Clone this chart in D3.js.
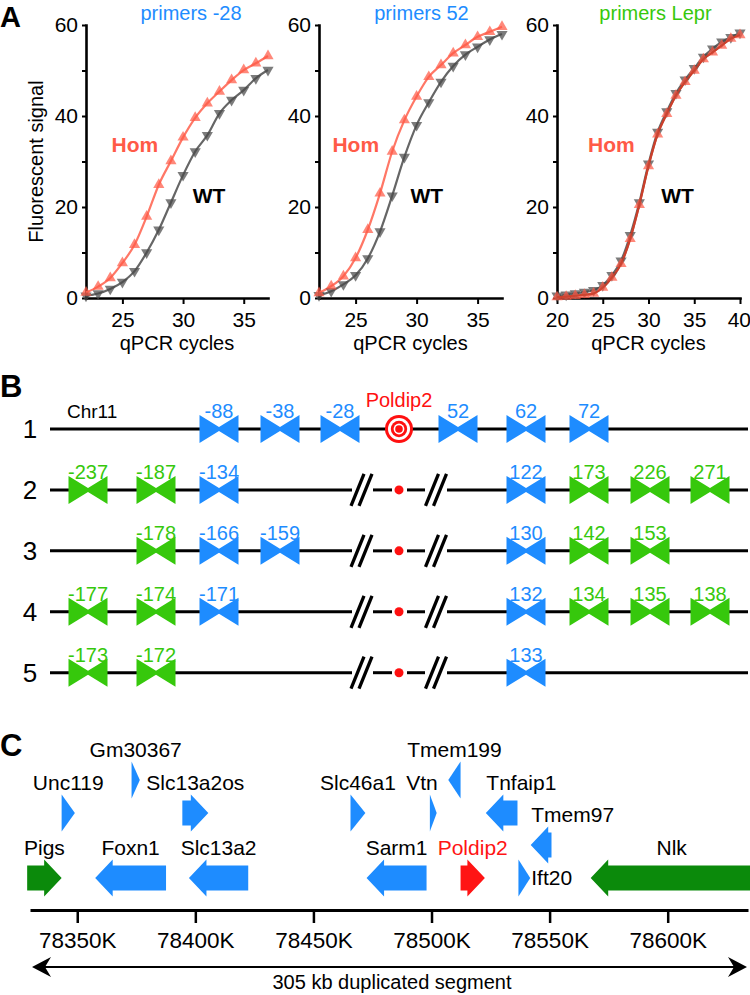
<!DOCTYPE html>
<html><head><meta charset="utf-8">
<script src="https://cdn.jsdelivr.net/npm/d3@7"></script>
<style>
body{margin:0;background:#fff}
svg{display:block;background:#fff}
text{font-family:"Liberation Sans",Arial,Helvetica,sans-serif}
</style>
</head><body>
<svg id="fig" width="750" height="995"></svg>
<script>
// ---------------- DATA ----------------
// Panel A: qPCR amplification curves
const cyclesShort = [22,23,24,25,26,27,28,29,30,31,32,33,34,35,36,37];
const homM28 = [1.2,2.5,4.4,7.7,11.7,17.9,24.9,30.1,35.3,39.6,42.8,45.4,47.9,50.1,51.6,53.2];
const wtM28  = [0.5,1.0,2.0,3.5,5.9,10.0,15.0,21.0,27.0,32.2,35.8,40.6,43.5,45.7,48.3,50.1];
const hom52  = [1.1,2.6,4.8,8.8,15.0,23.0,32.2,39.1,44.3,48.6,51.2,53.8,55.6,57.4,58.5,59.6];
const wt52   = [0.6,1.5,3.0,5.0,8.7,14.6,22.5,31.0,38.0,43.0,47.5,51.0,53.5,55.2,56.8,58.0];
const cyclesLong = [20,21,22,23,24,25,26,27,28,29,30,31,32,33,34,35,36,37,38,39,40];
const homLepr = [0.2,0.3,0.5,0.7,1.0,2.3,4.5,7.5,13.0,20.5,29.0,36.0,40.5,44.5,47.5,50.0,52.5,54.0,55.5,57.0,57.8];
const wtLepr  = [0.5,0.7,1.0,1.3,1.7,2.8,5.0,8.2,13.8,21.0,29.5,36.5,41.0,45.0,48.0,50.5,53.0,54.8,56.3,57.3,58.3];
const titlesA = ["primers -28","primers 52","primers Lepr"];
const yTicksA = [0,10,20,30,40,50,60];
const xTicksShort = [25,30,35];
const xTicksLong = [20,25,30,35,40];

// Panel B: primer maps (label, slot index, type g=green b=blue)
const bRows = [1,2,3,4,5];
const bLabels = [
  ["-88","-38","-28","52","62","72"],
  ["-237","-187","-134","122","173","226","271"],
  ["-178","-166","-159","130","142","153"],
  ["-177","-174","-171","132","134","135","138"],
  ["-173","-172","133"]
];
const bSlots = [
  [2,3,4,6,7,8],
  [0,1,2,7,8,9,10],
  [1,2,3,7,8,9],
  [0,1,2,7,8,9,10],
  [0,1,7]
];
const bTypes = [
  ["b","b","b","b","b","b"],
  ["g","g","b","b","g","g","g"],
  ["g","b","b","b","g","g"],
  ["g","g","b","b","g","g","g"],
  ["g","g","b"]
];

// Panel C: genes (kb)
const geneNames  = ["Pigs","Unc119","Gm30367","Foxn1","Slc13a2os","Slc13a2","Slc46a1","Sarm1","Vtn","Tmem199","Poldip2","Tnfaip1","Ift20","Tmem97","Nlk"];
const geneStart  = [78328.8,78343.4,78373.0,78357.6,78394.5,78397.3,78465.7,78472.5,78499.3,78507.1,78512.3,78523.0,78536.8,78542.0,78567.4];
const geneEnd    = [78343.4,78349.0,78376.5,78387.6,78405.5,78422.4,78472.0,78497.9,78502.2,78512.3,78522.6,78536.4,78541.8,78550.8,78636.0];
const geneStrand = ["+","+","+","-","+","-","+","-","+","-","+","-","+","-","-"];
const geneLane   = ["bottom","mid","top","bottom","mid","bottom","mid","bottom","mid","top","bottom","mid","bottom","low","bottom"];
const geneType   = ["green","blue","blue","blue","blue","blue","blue","blue","blue","blue","red","blue","blue","blue","green"];
const cTicks = [78350,78400,78450,78500,78550,78600];
const segmentText = "305 kb duplicated segment";

// ---------------- STYLE / LAYOUT ----------------
const BLUE = "#1e8cff", GREEN = "#36c80c", RED = "#ff1010";
const C_BLUE = "#1e8cff", C_GREEN = "#0b8a0b", C_RED = "#ff1414";
const HOM_LINE = "#ff7766", HOM_MARK = "#ff5a47", WT_LINE = "#666666", WT_MARK = "#4a4a4a";

const svg = d3.select("#fig");
svg.append("rect").attr("width",750).attr("height",995).attr("fill","#fff");

// panel letters
[["A",27],["B",397],["C",756]].forEach(([t,y])=>{
  svg.append("text").attr("x",0).attr("y",y).attr("font-size",t==="A"?29:31).attr("font-weight","bold").text(t);
});

// ---------------- PANEL A ----------------
const panelsA = [
  {title:titlesA[0], tcol:BLUE, cycles:cyclesShort, hom:homM28, wt:wtM28, x0:86, x1:268, dom:[22,37], ticks:xTicksShort, toff:14, hom_at:[24.1,32.1], wt_at:[30.8,20.9], homLine:HOM_LINE},
  {title:titlesA[1], tcol:BLUE, cycles:cyclesShort, hom:hom52, wt:wt52, x0:319, x1:502, dom:[22,37], ticks:xTicksShort, toff:11, hom_at:[23.1,32.1], wt_at:[29.5,20.9], homLine:HOM_LINE},
  {title:titlesA[2], tcol:GREEN, cycles:cyclesLong, hom:homLepr, wt:wtLepr, x0:557, x1:740, dom:[20,40], ticks:xTicksLong, toff:7, hom_at:[23.4,32.1], wt_at:[31.4,20.9], homLine:"#c9402c"}
];
const yA = d3.scaleLinear().domain([0,60]).range([298,25]);
const triUp = d3.symbol().type(d3.symbolTriangle).size(54);

panelsA.forEach((p,i)=>{
  const g = svg.append("g");
  const x = d3.scaleLinear().domain(p.dom).range([p.x0,p.x1]);
  const ya = g.append("g").attr("transform",`translate(${p.x0},0)`)
    .call(d3.axisLeft(yA).tickValues(yTicksA).tickSize(4).tickSizeOuter(0).tickPadding(4)
      .tickFormat(d=> d%20===0 ? d : ""));
  const xa = g.append("g").attr("transform",`translate(0,298)`)
    .call(d3.axisBottom(x).tickValues(p.ticks).tickSize(6).tickSizeOuter(0).tickPadding(8));
  [ya,xa].forEach(a=>{
    a.select(".domain").attr("stroke","#000").attr("stroke-width",2.6).attr("stroke-linecap","square");
    a.selectAll(".tick line").attr("stroke","#000").attr("stroke-width",2);
    a.selectAll(".tick text").attr("font-size",21).attr("fill","#000").attr("font-family",'"Liberation Sans",Arial,sans-serif');
  });
  xa.selectAll(".tick text").filter(d=> x(d) > 735).attr("text-anchor","end").attr("dx","0.5em");
  g.append("text").attr("x",(p.x0+p.x1)/2).attr("y",350).attr("text-anchor","middle").attr("font-size",20).text("qPCR cycles");
  if(i===0){
    g.append("text").attr("transform",`translate(36,${(25+298)/2}) rotate(-90)`).attr("text-anchor","middle")
      .attr("dy","0.35em").attr("font-size",20).text("Fluorescent signal");
  }
  g.append("text").attr("x",(p.x0+p.x1)/2+p.toff).attr("y",20).attr("text-anchor","middle")
    .attr("font-size",20).attr("fill",p.tcol).text(p.title);

  const homPts = p.cycles.map((c,k)=>({c, v:p.hom[k]}));
  const wtPts = p.cycles.map((c,k)=>({c, v:p.wt[k]}));
  const line = d3.line().x(d=>x(d.c)).y(d=>yA(d.v)).curve(d3.curveMonotoneX);
  g.append("path").attr("d",line(wtPts)).attr("fill","none").attr("stroke",WT_LINE).attr("stroke-width",2.2);
  g.append("path").attr("d",line(homPts)).attr("fill","none").attr("stroke",p.homLine).attr("stroke-width",2.2);
  g.selectAll(".wt").data(wtPts).enter().append("path")
    .attr("d",triUp).attr("transform",d=>`translate(${x(d.c)},${yA(d.v)}) rotate(180)`)
    .attr("fill",WT_MARK).attr("fill-opacity",0.72);
  g.selectAll(".hom").data(homPts).enter().append("path")
    .attr("d",triUp).attr("transform",d=>`translate(${x(d.c)},${yA(d.v)})`)
    .attr("fill",HOM_MARK).attr("fill-opacity",0.72);
  if(i===2){
    g.append("path").attr("d",line(homPts)).attr("fill","none").attr("stroke",p.homLine).attr("stroke-width",2).attr("stroke-opacity",0.8);
  }
  g.append("text").attr("x",x(p.hom_at[0])).attr("y",yA(p.hom_at[1])).attr("font-size",21).attr("font-weight","bold").attr("fill","#ff5a47").text("Hom");
  g.append("text").attr("x",x(p.wt_at[0])).attr("y",yA(p.wt_at[1])).attr("font-size",21).attr("font-weight","bold").attr("fill","#000").text("WT");
});

// ---------------- PANEL B ----------------
const rowY = d3.scalePoint().domain(bRows).range([429,672.7]);
const slotX = d3.scaleOrdinal().domain(d3.range(11)).range([88,156,219,280,340,399,458,526,589,650,710]);
const cx = slotX(5);
const gB = svg.append("g");
const BW = 19.5, BH = 14;
const bow = `M${-BW},${-BH}L0,-2L${BW},${-BH}L${BW},${BH}L0,2L${-BW},${BH}Z`;

bRows.forEach((r,ri)=>{
  const y = rowY(r);
  gB.append("text").attr("x",30).attr("y",y).attr("dy","0.35em").attr("text-anchor","middle").attr("font-size",26).text(r);
  if(ri===0){
    gB.append("line").attr("x1",50).attr("x2",748).attr("y1",y).attr("y2",y).attr("stroke","#000").attr("stroke-width",3);
    gB.append("text").attr("x",67).attr("y",y-11).attr("font-size",19).text("Chr11");
    gB.append("text").attr("x",cx).attr("y",y-22).attr("text-anchor","middle").attr("font-size",20).attr("fill",RED).text("Poldip2");
    [[14,RED],[11,"#fff"],[8.2,RED],[5.4,"#fff"],[3.8,RED]].forEach(([rr,c])=>{
      gB.append("circle").attr("cx",cx).attr("cy",y).attr("r",rr).attr("fill",c);
    });
  } else {
    [[50,352],[373,392],[407,425],[447,748]].forEach(([a,b])=>{
      gB.append("line").attr("x1",a).attr("x2",b).attr("y1",y).attr("y2",y).attr("stroke","#000").attr("stroke-width",3);
    });
    [361.5,436].forEach(sx=>{
      [-4,4].forEach(o=>{
        gB.append("line").attr("x1",sx+o-6.5).attr("y1",y+16).attr("x2",sx+o+6.5).attr("y2",y-16)
          .attr("stroke","#000").attr("stroke-width",3.3);
      });
    });
    gB.append("circle").attr("cx",cx).attr("cy",y).attr("r",4.5).attr("fill",RED);
  }
  bLabels[ri].forEach((lab,k)=>{
    const x = slotX(bSlots[ri][k]);
    const col = bTypes[ri][k]==="g" ? GREEN : BLUE;
    gB.append("path").attr("d",bow).attr("transform",`translate(${x},${y})`).attr("fill",col);
    gB.append("text").attr("x",x).attr("y",y-11).attr("text-anchor","middle").attr("font-size",20).attr("fill",col).text(lab);
  });
});

// ---------------- PANEL C ----------------
const gC = svg.append("g");
const xC = d3.scaleLinear().domain([78330,78634]).range([30,748]);
const laneY = {top:780, mid:813, low:845, bottom:878};
const colorOf = {blue:C_BLUE, green:C_GREEN, red:C_RED};
const HEAD_H = 18.5, BODY_H = 12.5, HEAD_L = 17.5;
function arrowPath(x0,x1,strand,yc){
  if(strand==="+"){
    const xb = x1-HEAD_L;
    if(xb<=x0) return `M${x0},${yc-HEAD_H}L${x1},${yc}L${x0},${yc+HEAD_H}Z`;
    return `M${x0},${yc-BODY_H}L${xb},${yc-BODY_H}L${xb},${yc-HEAD_H}L${x1},${yc}L${xb},${yc+HEAD_H}L${xb},${yc+BODY_H}L${x0},${yc+BODY_H}Z`;
  } else {
    const xb = x0+HEAD_L;
    if(xb>=x1) return `M${x1},${yc-HEAD_H}L${x0},${yc}L${x1},${yc+HEAD_H}Z`;
    return `M${x1},${yc-BODY_H}L${xb},${yc-BODY_H}L${xb},${yc-HEAD_H}L${x0},${yc}L${xb},${yc+HEAD_H}L${xb},${yc+BODY_H}L${x1},${yc+BODY_H}Z`;
  }
}
const labelRule = {Vtn:"end", Tnfaip1:"start", Tmem97:"start", Ift20:"right"};
geneNames.forEach((n,i)=>{
  const x0 = xC(geneStart[i]), x1 = xC(geneEnd[i]);
  const yc = laneY[geneLane[i]];
  gC.append("path").attr("d",arrowPath(x0,x1,geneStrand[i],yc)).attr("fill",colorOf[geneType[i]]);
  const rule = labelRule[n] || "middle";
  const t = gC.append("text").attr("font-size",21).attr("fill", geneType[i]==="red" ? C_RED : "#000").text(n);
  const ty = yc - HEAD_H - 5;
  if(rule==="middle") t.attr("x",(x0+x1)/2).attr("y",ty).attr("text-anchor","middle");
  else if(rule==="end") t.attr("x",x1+1).attr("y",ty).attr("text-anchor","end");
  else if(rule==="start") t.attr("x",x0+0.5).attr("y",ty).attr("text-anchor","start");
  else t.attr("x",x1+1).attr("y",yc+7).attr("text-anchor","start");
});
const ca = gC.append("g").attr("transform","translate(0,910)")
  .call(d3.axisBottom(xC).tickValues(cTicks).tickSize(13).tickSizeOuter(0).tickPadding(9).tickFormat(d=>d+"K"));
ca.select(".domain").attr("stroke","#000").attr("stroke-width",3);
ca.selectAll(".tick line").attr("stroke","#000").attr("stroke-width",2.5);
ca.selectAll(".tick text").attr("font-size",22.5).attr("fill","#000").attr("font-family",'"Liberation Sans",Arial,sans-serif');

const ay = 967, axL = xC.range()[0]+2, axR = xC.range()[1]-1;
gC.append("line").attr("x1",axL+8).attr("x2",axR-8).attr("y1",ay).attr("y2",ay).attr("stroke","#000").attr("stroke-width",2);
gC.append("path").attr("d",`M${axL},${ay}L${axL+19},${ay-10}L${axL+13},${ay}L${axL+19},${ay+10}Z`).attr("fill","#000");
gC.append("path").attr("d",`M${axR},${ay}L${axR-19},${ay-10}L${axR-13},${ay}L${axR-19},${ay+10}Z`).attr("fill","#000");
gC.append("text").attr("x",392).attr("y",989).attr("text-anchor","middle").attr("font-size",20).text(segmentText);
</script>
</body></html>
